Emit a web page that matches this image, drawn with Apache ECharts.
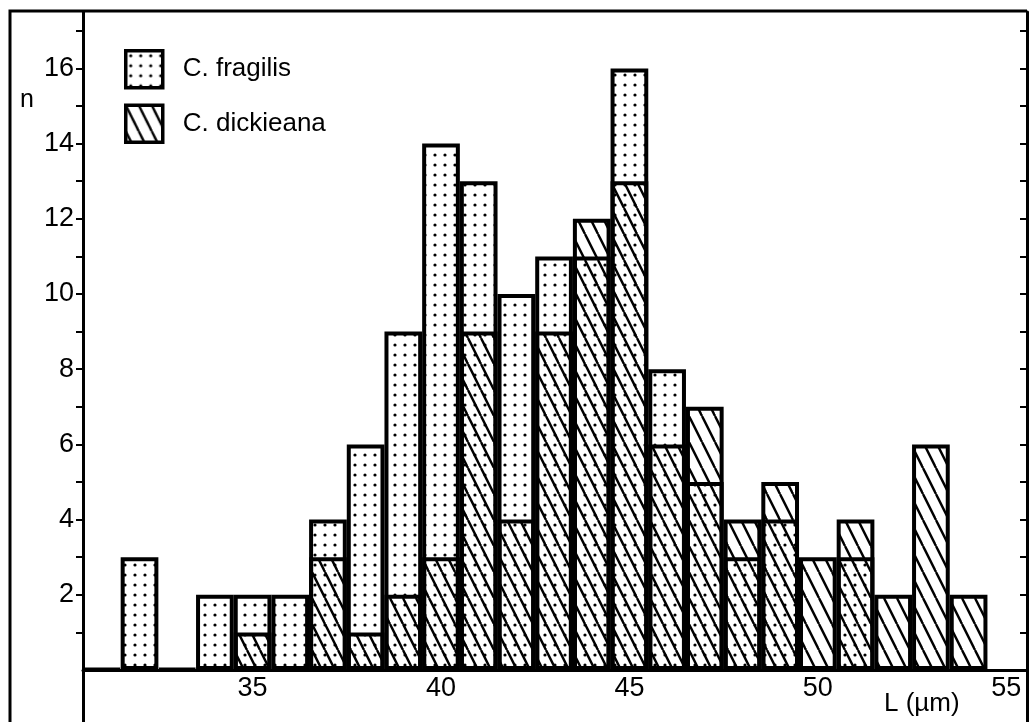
<!DOCTYPE html>
<html style="height: 100%">
<head>
    <meta charset="utf-8">
</head>
<body style="height: 100%; margin: 0; background: #fff">
<div id="container" style="width: 1032px; height: 722px"></div>
<script src="https://cdn.jsdelivr.net/npm/echarts@6/dist/echarts.min.js"></script>
<script type="text/javascript">
// length classes (um), one bar per class
var bins = [31, 32, 33, 34, 35, 36, 37, 38, 39, 40, 41, 42, 43, 44, 45, 46, 47, 48, 49, 50, 51, 52, 53, 54];
var fragilis = [0, 3, 0, 2, 2, 2, 4, 6, 9, 14, 13, 10, 11, 11, 16, 8, 5, 3, 4, 0, 3, null, null, null];
var dickieana = [null, null, null, null, 1, 0, 3, 1, 2, 3, 9, 4, 9, 12, 13, 6, 7, 4, 5, 3, 4, 2, 6, 2];
var xLabels = [35, 40, 45, 50, 55];
var yLabels = [2, 4, 6, 8, 10, 12, 14, 16];
var yTicks = [1, 2, 3, 4, 5, 6, 7, 8, 9, 10, 11, 12, 13, 14, 15, 16, 17];

function pairs(vals) {
    var out = [];
    bins.forEach(function (b, i) {
        if (vals[i] !== null) out.push([b, vals[i]]);
    });
    return out;
}

// dotted fill (white ground)
function dotPattern() {
    var c = document.createElement('canvas');
    c.width = 10; c.height = 10;
    var ctx = c.getContext('2d');
    ctx.fillStyle = '#fff';
    ctx.fillRect(0, 0, 10, 10);
    ctx.fillStyle = '#000';
    ctx.beginPath();
    ctx.arc(5, 5, 1.6, 0, Math.PI * 2);
    ctx.fill();
    return c;
}

// "\\" hatching, transparent ground
function hatchPattern() {
    var w = 13, h = 26;
    var c = document.createElement('canvas');
    c.width = w; c.height = h;
    var ctx = c.getContext('2d');
    ctx.strokeStyle = '#000';
    ctx.lineWidth = 2.4;
    [-w, 0, w].forEach(function (x0) {
        ctx.beginPath();
        ctx.moveTo(x0, 0);
        ctx.lineTo(x0 + w, h);
        ctx.stroke();
    });
    return c;
}

var font = 'Liberation Sans';
var dom = document.getElementById('container');
var myChart = echarts.init(dom);

// the x axis sits at n = 0, above the bottom of the frame
var yMin = -1.383, yMax = 17.5;

var option = {
    backgroundColor: '#fff',
    animation: false,
    grid: { left: 83, right: 5, top: 12, bottom: 0, outerBoundsMode: 'none', containLabel: false },
    legend: {
        orient: 'vertical',
        left: 124,
        top: 49,
        padding: 0,
        itemWidth: 37,
        itemHeight: 37,
        itemGap: 14,
        icon: 'rect',
        itemStyle: { borderColor: '#000', borderWidth: 3.5 },
        textStyle: { fontFamily: font, fontSize: 26, color: '#000', padding: [0, 0, 0, 15] },
        data: ['C. fragilis', 'C. dickieana']
    },
    xAxis: {
        type: 'value',
        min: 30.5,
        max: 55.55,
        offset: -52,
        axisLine: { onZero: false, lineStyle: { color: '#000', width: 3 } },
        axisTick: { show: false },
        splitLine: { show: false },
        axisLabel: {
            customValues: xLabels,
            margin: 5,
            color: '#000',
            fontFamily: font,
            fontSize: 27
        }
    },
    yAxis: [{
        type: 'value',
        position: 'left',
        min: yMin,
        max: yMax,
        axisLine: { show: true, onZero: false, lineStyle: { color: '#000', width: 3 } },
        axisTick: { show: true, customValues: yTicks, length: 7, lineStyle: { color: '#000', width: 2 } },
        splitLine: { show: false },
        axisLabel: {
            customValues: yLabels,
            margin: 9,
            color: '#000',
            fontFamily: font,
            fontSize: 27
        }
    }, {
        type: 'value',
        position: 'right',
        min: yMin,
        max: yMax,
        axisLine: { show: true, onZero: false, lineStyle: { color: '#000', width: 3 } },
        axisTick: { show: true, inside: true, customValues: yTicks, length: 7, lineStyle: { color: '#000', width: 2 } },
        splitLine: { show: false },
        axisLabel: { show: false }
    }],
    series: [{
        name: 'C. fragilis',
        type: 'bar',
        barWidth: 37.7,
        barGap: '-100%',
        barMinHeight: 1,
        itemStyle: {
            color: { image: dotPattern(), repeat: 'repeat' },
            borderColor: '#000',
            borderWidth: 4
        },
        data: pairs(fragilis)
    }, {
        name: 'C. dickieana',
        type: 'bar',
        barWidth: 37.7,
        barGap: '-100%',
        barMinHeight: 1,
        itemStyle: {
            color: { image: hatchPattern(), repeat: 'repeat' },
            borderColor: '#000',
            borderWidth: 4
        },
        data: pairs(dickieana)
    }],
    graphic: [{
        type: 'polyline',
        shape: { points: [[10, 722], [10, 11], [1027, 11]] },
        style: { stroke: '#000', lineWidth: 3, fill: null }
    }, {
        type: 'text',
        left: 20,
        top: 88,
        style: { text: 'n', fontFamily: font, fontSize: 25, fill: '#000' }
    }, {
        type: 'text',
        left: 884,
        top: 691,
        style: { text: 'L (µm)', fontFamily: font, fontSize: 26, fill: '#000' }
    }]
};

myChart.setOption(option);
</script>
</body>
</html>
